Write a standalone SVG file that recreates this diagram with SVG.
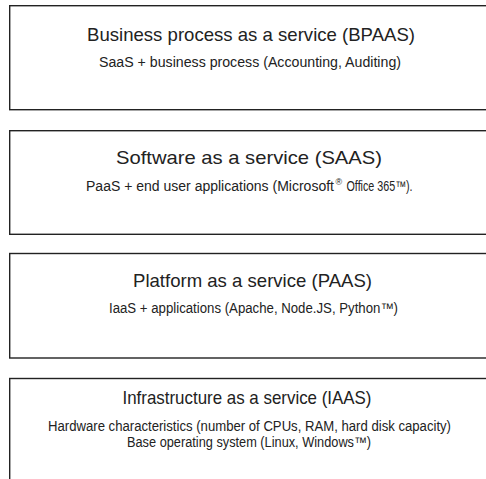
<svg xmlns="http://www.w3.org/2000/svg" width="486" height="479" viewBox="0 0 486 479">
  <style>
    .box { fill: #ffffff; stroke: #222222; stroke-width: 1.4; }
    .title { font-family: "Liberation Sans Narrow", "Liberation Sans", Arial, sans-serif; font-size: 18.5px; fill: #222222; text-anchor: middle; }
    .sub { font-family: "Liberation Sans Narrow", "Liberation Sans", Arial, sans-serif; font-size: 14px; fill: #222222; text-anchor: middle; }
    .sup { font-family: "Liberation Sans", Arial, sans-serif; font-size: 9px; fill: #222222; }
  </style>
  <rect width="486" height="479" fill="#ffffff"/>

  <!-- each layer is a box running off the right edge, with a title and a description -->
  <g id="bpaas">
    <rect class="box" x="9.7" y="5.7" width="490" height="104"/>
    <text class="title" x="251" y="41" textLength="328" lengthAdjust="spacingAndGlyphs">Business process as a service (BPAAS)</text>
    <text class="sub" x="250" y="67" textLength="302" lengthAdjust="spacingAndGlyphs">SaaS + business process (Accounting, Auditing)</text>
  </g>

  <g id="saas">
    <rect class="box" x="9.7" y="130.7" width="490" height="103.6"/>
    <text class="title" x="249" y="164" textLength="266" lengthAdjust="spacingAndGlyphs">Software as a service (SAAS)</text>
    <text class="sub" x="210" y="191" textLength="248" lengthAdjust="spacingAndGlyphs">PaaS + end user applications (Microsoft</text>
    <text class="sup" x="335.5" y="185">®</text>
    <text class="sub" x="379.5" y="191" textLength="66" lengthAdjust="spacingAndGlyphs">Office 365™).</text>
  </g>

  <g id="paas">
    <rect class="box" x="9.7" y="253.5" width="490" height="104.5"/>
    <text class="title" x="252.5" y="287" textLength="239" lengthAdjust="spacingAndGlyphs">Platform as a service (PAAS)</text>
    <text class="sub" x="253.5" y="313" textLength="289" lengthAdjust="spacingAndGlyphs">IaaS + applications (Apache, Node.JS, Python™)</text>
  </g>

  <g id="iaas">
    <rect class="box" x="9.7" y="378.5" width="490" height="110"/>
    <text class="title" x="247" y="404" textLength="249" lengthAdjust="spacingAndGlyphs">Infrastructure as a service (IAAS)</text>
    <text class="sub" x="249.5" y="431" textLength="403" lengthAdjust="spacingAndGlyphs">Hardware characteristics (number of CPUs, RAM, hard disk capacity)</text>
    <text class="sub" x="249" y="447" textLength="244" lengthAdjust="spacingAndGlyphs">Base operating system (Linux, Windows™)</text>
  </g>

  <g id="connectors"/>
</svg>
